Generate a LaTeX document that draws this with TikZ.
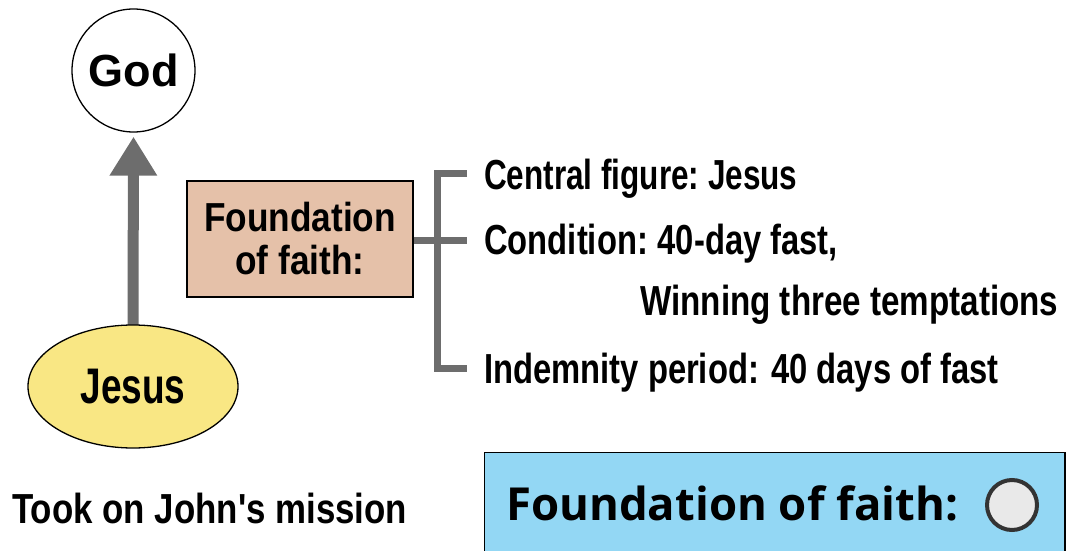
\documentclass[tikz,border=0pt]{standalone}
\usepackage{fontspec}
\usepackage{graphicx}
\newfontfamily\lsf{Liberation Sans}
\newfontfamily\osf{Open Sans}
\usetikzlibrary{arrows.meta,shapes.geometric}
\pgfdeclarelayer{background}
\pgfsetlayers{background,main}
\definecolor{linegray}{HTML}{6D6D6D}
\definecolor{jesusyellow}{HTML}{F9E784}
\definecolor{boxtan}{HTML}{E5C1A9}
\definecolor{skyblue}{HTML}{93D7F4}
\definecolor{markfill}{HTML}{E9E9E9}
\definecolor{markline}{HTML}{333333}
\newcommand{\cnd}[2]{\scalebox{#1}[1]{#2}}
\begin{document}
\begin{tikzpicture}[x=1pt,y=-1pt,
  txt/.style={font=\lsf\bfseries\fontsize{42}{48}\selectfont, inner sep=0pt, anchor=base west},
  bracket/.style={linegray, line width=7pt},
]
\path[use as bounding box] (0,0) rectangle (1068,551);
\clip (0,0) rectangle (1068,551);
% God and Jesus
\node[circle, draw, line width=1.3pt, fill=white, minimum size=123pt, inner sep=0pt,
      font=\lsf\bfseries\fontsize{45}{50}\selectfont] (god) at (133.5,70.5) {God};
\node[ellipse, draw, line width=1.3pt, fill=jesusyellow, minimum width=210pt, minimum height=123pt, inner sep=0pt,
      font=\lsf\bfseries\fontsize{50}{56}\selectfont] (jesus) at (133,386.5) {\cnd{0.74}{Jesus}};
\begin{pgfonlayer}{background}
\draw[linegray, line width=11pt, -{Triangle[width=45pt,length=39pt]}, shorten >=4pt]
  ([yshift=-2pt]jesus.north) -- (god.south);
\end{pgfonlayer}
% foundation box
\node[draw, line width=1.2pt, fill=boxtan, minimum width=226pt, minimum height=116pt, inner sep=0pt,
      align=center, font=\lsf\bfseries\fontsize{40.5}{43}\selectfont] (fof) at (300,239)
      {\cnd{0.87}{Foundation}\\\cnd{0.87}{of faith:}};
% bracket
\coordinate (btop) at (437,173);
\coordinate (bmid) at (437,240);
\coordinate (bbot) at (437,368);
\coordinate (ttop) at (467,173);
\coordinate (tmid) at (467,240);
\coordinate (tbot) at (467,368);
\draw[bracket] (fof.east |- bmid) -- (bmid);
\draw[bracket] (ttop) -- (btop) -- (bbot) -- (tbot);
\draw[bracket] (bmid) -- (tmid);
% texts
\node[txt] (t1) at (484,189) {\cnd{0.75}{Central figure:\hspace{-4pt} Jesus}};
\node[txt] (t2) at (484,254) {\cnd{0.78}{Condition:\hspace{-3pt} 40-day fast,}};
\node[txt] (t3) at (640,315) {\cnd{0.79}{Winning three temptations}};
\node[txt] (t4) at (484,383) {\cnd{0.78}{Indemnity period: 40 days of fast}};
\node[txt] (took) at (12,523) {\cnd{0.83}{Took on John's mission}};
% blue box
\draw[fill=skyblue, line width=1.5pt] (484.5,452.5) rectangle (1065,580);
\node[font=\osf\bfseries\fontsize{45.5}{50}\selectfont, inner sep=0pt, anchor=base west] (bft) at (506,520) {Foundation of faith:};
\node[circle, draw=markline, fill=markfill, line width=4pt, minimum size=50pt, inner sep=0pt] (mark) at (1012,505) {};
\end{tikzpicture}
\end{document}
